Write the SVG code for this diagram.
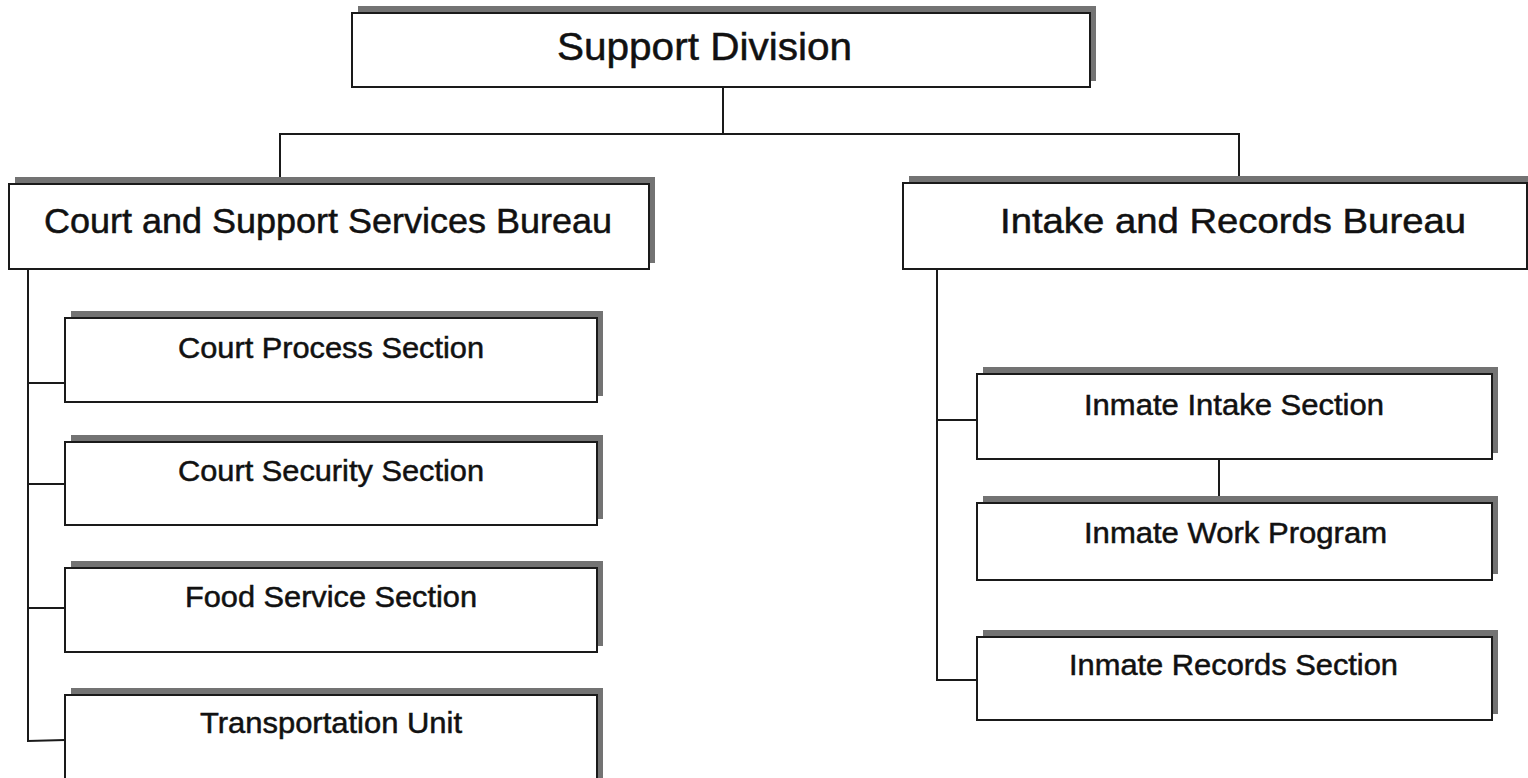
<svg xmlns="http://www.w3.org/2000/svg" width="1528" height="778" viewBox="0 0 1528 778">
<style>
.sh{fill:#737373;}
.bx{fill:#fff;stroke:#1a1a1a;stroke-width:2;}
.t{font-family:"Liberation Sans",Arial,sans-serif;fill:#111;stroke:#111;stroke-width:0.5;}
.t1{font-size:39px;}
.t2{font-size:35px;}
.t3{font-size:29px;}
.ln{fill:none;stroke:#1a1a1a;stroke-width:2;}
</style>
<rect width="1528" height="778" fill="#fff"/>
<g id="connectors">
<polyline class="ln" points="723,87 723,134"/>
<polyline class="ln" points="280,183 280,134 1239,134 1239,183"/>
<polyline class="ln" points="28,269 28,741 65,740"/>
<line class="ln" x1="28" y1="383" x2="65" y2="383"/>
<line class="ln" x1="28" y1="484" x2="65" y2="484"/>
<line class="ln" x1="28" y1="608" x2="65" y2="608"/>
<polyline class="ln" points="937,269 937,680 977,680"/>
<line class="ln" x1="937" y1="420" x2="977" y2="420"/>
<line class="ln" x1="1219" y1="459" x2="1219" y2="503"/>
</g>
<g id="support-division">
<rect class="sh" x="358" y="6" width="738" height="75"/>
<rect class="bx" x="352" y="13" width="738" height="74"/>
<text class="t t1" x="557" y="60" textLength="295" lengthAdjust="spacingAndGlyphs">Support Division</text>
</g>
<g id="court-bureau">
<rect class="sh" x="15" y="177" width="640" height="86"/>
<rect class="bx" x="9" y="184" width="640" height="85"/>
<text class="t t2" x="44" y="233" textLength="568" lengthAdjust="spacingAndGlyphs">Court and Support Services Bureau</text>
</g>
<g id="intake-bureau">
<rect class="sh" x="909" y="176" width="624" height="86"/>
<rect class="bx" x="903" y="183" width="624" height="86"/>
<text class="t t2" x="1000" y="233" textLength="466" lengthAdjust="spacingAndGlyphs">Intake and Records Bureau</text>
</g>
<g id="court-process">
<rect class="sh" x="71" y="311" width="532" height="85"/>
<rect class="bx" x="65" y="318" width="532" height="84"/>
<text class="t t3" x="178" y="358" textLength="306" lengthAdjust="spacingAndGlyphs">Court Process Section</text>
</g>
<g id="court-security">
<rect class="sh" x="71" y="435" width="532" height="84"/>
<rect class="bx" x="65" y="442" width="532" height="83"/>
<text class="t t3" x="178" y="481" textLength="306" lengthAdjust="spacingAndGlyphs">Court Security Section</text>
</g>
<g id="food-service">
<rect class="sh" x="71" y="561" width="532" height="85"/>
<rect class="bx" x="65" y="568" width="532" height="84"/>
<text class="t t3" x="185" y="607" textLength="292" lengthAdjust="spacingAndGlyphs">Food Service Section</text>
</g>
<g id="transportation">
<rect class="sh" x="71" y="688" width="532" height="90"/>
<rect class="bx" x="65" y="695" width="532" height="90"/>
<text class="t t3" x="200" y="733" textLength="262" lengthAdjust="spacingAndGlyphs">Transportation Unit</text>
</g>
<g id="inmate-intake">
<rect class="sh" x="983" y="367" width="515" height="86"/>
<rect class="bx" x="977" y="374" width="515" height="85"/>
<text class="t t3" x="1084" y="415" textLength="300" lengthAdjust="spacingAndGlyphs">Inmate Intake Section</text>
</g>
<g id="inmate-work">
<rect class="sh" x="983" y="496" width="515" height="78"/>
<rect class="bx" x="977" y="503" width="515" height="77"/>
<text class="t t3" x="1084" y="543" textLength="303" lengthAdjust="spacingAndGlyphs">Inmate Work Program</text>
</g>
<g id="inmate-records">
<rect class="sh" x="983" y="630" width="515" height="84"/>
<rect class="bx" x="977" y="637" width="515" height="83"/>
<text class="t t3" x="1069" y="675" textLength="329" lengthAdjust="spacingAndGlyphs">Inmate Records Section</text>
</g>
</svg>
